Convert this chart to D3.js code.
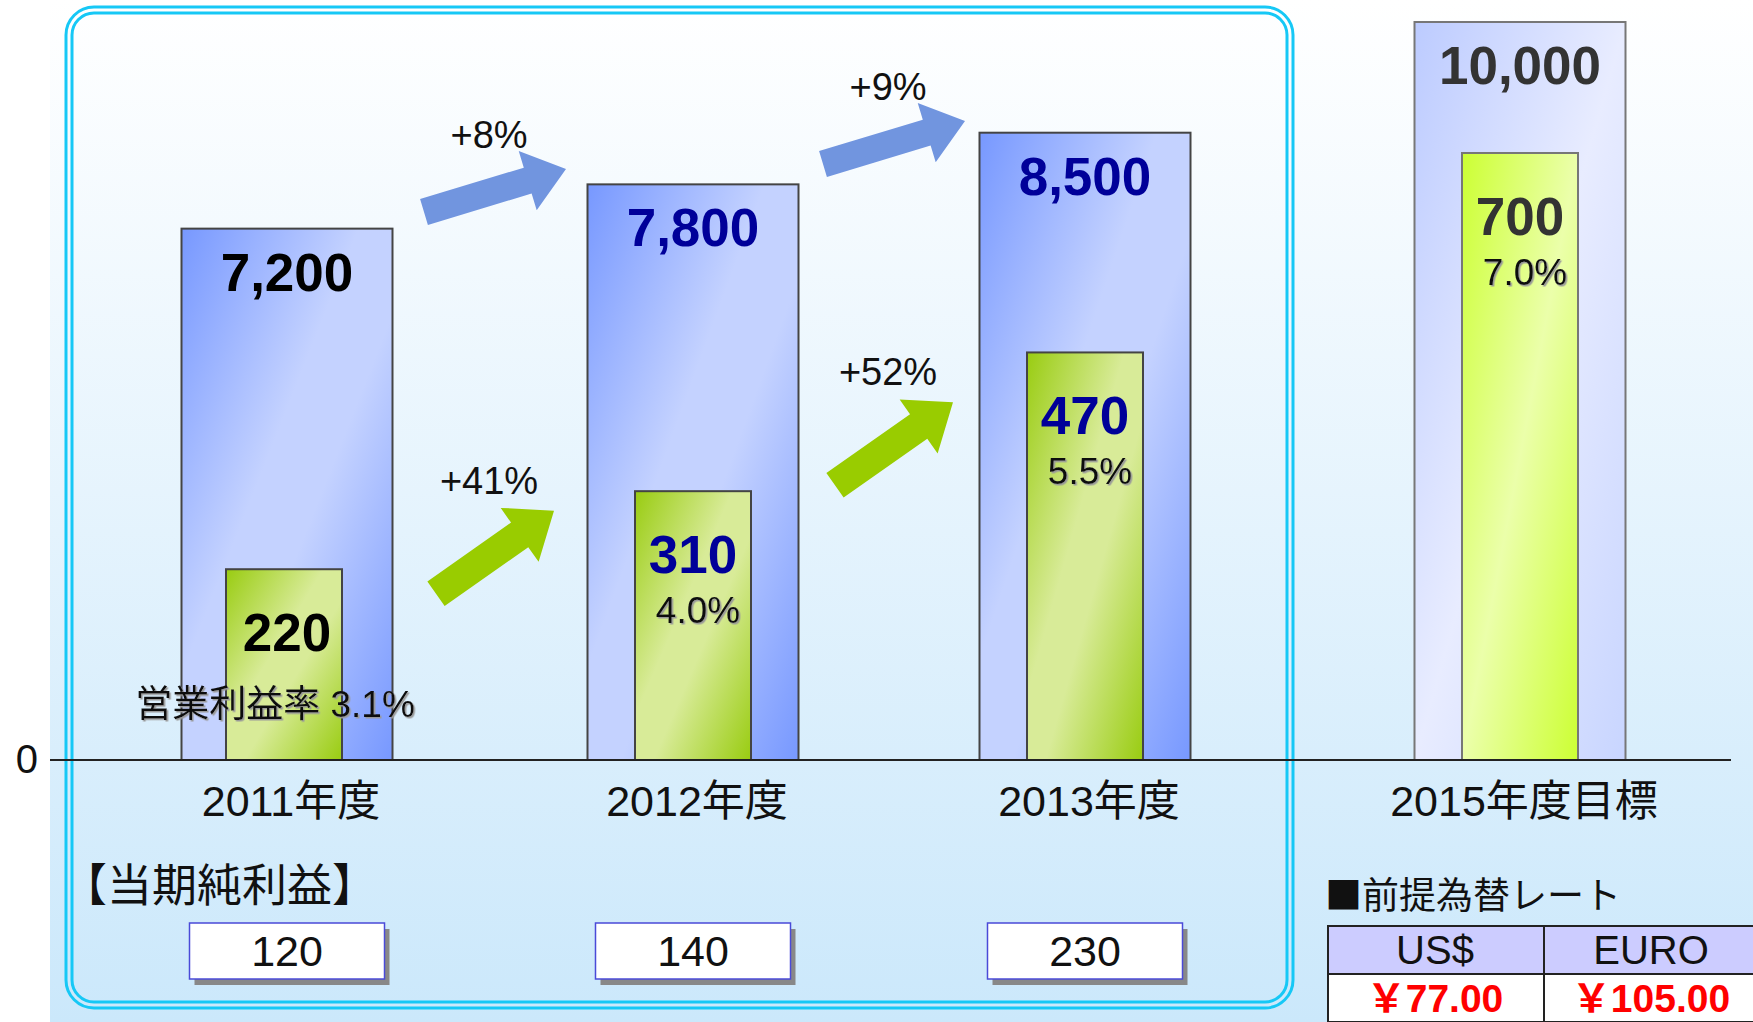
<!DOCTYPE html>
<html>
<head>
<meta charset="utf-8">
<script src="https://cdn.jsdelivr.net/npm/d3@7"></script>
<style>
  html, body { margin: 0; padding: 0; background: #fff; }
  svg { display: block; }
</style>
</head>
<body>
<div id="chart"></div>
<script>
// values
const years = ["2011年度", "2012年度", "2013年度", "2015年度目標"];
const sales = [7200, 7800, 8500, 10000];
const opProfit = [220, 310, 470, 700];
const opMargin = [3.1, 4.0, 5.5, 7.0];
const netProfit = [120, 140, 230];
const currencies = ["US$", "EURO"];
const rates = [77, 105];

const width = 1753
const height = 1022
const baseY = 760
const font = "'Liberation Sans', Arial, 'Noto Sans CJK JP', sans-serif"
const jpFont = "'Noto Sans CJK JP', 'Liberation Sans', sans-serif"

const x = d3.scaleOrdinal().domain(years).range([287, 693, 1085, 1520])
const ySales = d3.scaleLinear().domain([0, 10000]).range([baseY, 22])
const yProfit = d3.scaleLinear().domain([0, 700]).range([baseY, 153])
const salesW = 211
const profitW = 116
const isTarget = i => i === years.length - 1

const svg = d3.select("#chart").append("svg")
    .attr("width", width)
    .attr("height", height)
    .style("font-family", font);

const defs = svg.append("defs");

function diagGradient(id, stops) {
    const g = defs.append("linearGradient")
        .attr("id", id)
        .attr("x1", 0).attr("y1", 0)
        .attr("x2", 1).attr("y2", 1);
    g.selectAll("stop")
        .data(stops)
        .join("stop")
        .attr("offset", d => d[0])
        .attr("stop-color", d => d[1]);
}
diagGradient("gBlue", [[0, "#7798ff"], [0.42, "#c4d2ff"], [0.58, "#c4d2ff"], [1, "#7798ff"]]);
diagGradient("gGreen", [[0, "#99cc11"], [0.42, "#d8eb98"], [0.58, "#d8eb98"], [1, "#99cc11"]]);
diagGradient("gBlueT", [[0, "#bccbff"], [0.5, "#e8ecff"], [1, "#c8d5ff"]]);
diagGradient("gGreenT", [[0, "#ccff33"], [0.5, "#ebffaa"], [1, "#ccff33"]]);

const bg = defs.append("linearGradient")
    .attr("id", "bg")
    .attr("x1", 0).attr("y1", 0)
    .attr("x2", 0).attr("y2", 1);
bg.append("stop").attr("offset", 0).attr("stop-color", "#ffffff");
bg.append("stop").attr("offset", 1).attr("stop-color", "#cbe8fb");

const shadow = defs.append("filter").attr("id", "shadow");
shadow.append("feDropShadow")
    .attr("dx", 1.5).attr("dy", 1.5)
    .attr("stdDeviation", 0.6)
    .attr("flood-color", "#999");

// background + framed panel
svg.append("rect")
    .attr("x", 50).attr("y", 0)
    .attr("width", width - 50).attr("height", height)
    .attr("fill", "url(#bg)");

svg.append("rect")
    .attr("x", 66).attr("y", 7)
    .attr("width", 1227).attr("height", 1001)
    .attr("rx", 28)
    .attr("fill", "none")
    .attr("stroke", "#16c8f6")
    .attr("stroke-width", 3);
svg.append("rect")
    .attr("x", 72).attr("y", 13)
    .attr("width", 1215).attr("height", 989)
    .attr("rx", 22)
    .attr("fill", "none")
    .attr("stroke", "#16c8f6")
    .attr("stroke-width", 3);

// sales bars
svg.append("g")
    .selectAll("rect")
    .data(sales)
    .join("rect")
    .attr("x", (d, i) => x(years[i]) - salesW / 2)
    .attr("y", d => ySales(d))
    .attr("width", salesW)
    .attr("height", d => baseY - ySales(d))
    .attr("fill", (d, i) => isTarget(i) ? "url(#gBlueT)" : "url(#gBlue)")
    .attr("stroke", (d, i) => isTarget(i) ? "#777" : "#444")
    .attr("stroke-width", 2);

// operating profit bars
svg.append("g")
    .selectAll("rect")
    .data(opProfit)
    .join("rect")
    .attr("x", (d, i) => x(years[i]) - profitW / 2 - (i === 0 ? 3 : 0))
    .attr("y", d => yProfit(d))
    .attr("width", profitW)
    .attr("height", d => baseY - yProfit(d))
    .attr("fill", (d, i) => isTarget(i) ? "url(#gGreenT)" : "url(#gGreen)")
    .attr("stroke", (d, i) => isTarget(i) ? "#777" : "#444")
    .attr("stroke-width", 2);

const valueColor = i => i === 0 ? "#000" : isTarget(i) ? "#333" : "#000099"

svg.append("g")
    .selectAll("text")
    .data(sales)
    .join("text")
    .attr("x", (d, i) => x(years[i]))
    .attr("y", d => ySales(d) + 62)
    .attr("text-anchor", "middle")
    .attr("font-size", 53)
    .attr("font-weight", "bold")
    .attr("fill", (d, i) => valueColor(i))
    .text(d => d3.format(",")(d));

svg.append("g")
    .selectAll("text")
    .data(opProfit)
    .join("text")
    .attr("x", (d, i) => x(years[i]))
    .attr("y", d => yProfit(d) + 82)
    .attr("text-anchor", "middle")
    .attr("font-size", 53)
    .attr("font-weight", "bold")
    .attr("fill", (d, i) => valueColor(i))
    .text(d => d);

svg.append("g")
    .selectAll("text")
    .data(opMargin)
    .join("text")
    .attr("x", (d, i) => x(years[i]) + (i === 0 ? -12 : 5))
    .attr("y", (d, i) => yProfit(opProfit[i]) + (i === 0 ? 148 : 132))
    .attr("text-anchor", "middle")
    .attr("font-size", 37)
    .attr("fill", "#111")
    .attr("filter", "url(#shadow)")
    .text((d, i) => (i === 0 ? "営業利益率 " : "") + d3.format(".1f")(d) + "%");

// baseline and zero tick
svg.append("line")
    .attr("x1", 50).attr("x2", 1731)
    .attr("y1", baseY).attr("y2", baseY)
    .attr("stroke", "#222")
    .attr("stroke-width", 2);

const yAxis = svg.append("g")
    .attr("transform", "translate(50,0)")
    .call(d3.axisLeft(ySales).tickValues([0]).tickSize(0).tickPadding(12));
yAxis.select(".domain").remove();
yAxis.selectAll("text")
    .attr("font-size", 40)
    .attr("font-family", font)
    .attr("fill", "#111");

svg.append("g")
    .selectAll("text")
    .data(years)
    .join("text")
    .attr("x", (d, i) => x(d) + 4)
    .attr("y", 801)
    .attr("dy", "0.36em")
    .attr("text-anchor", "middle")
    .attr("font-size", 43)
    .attr("fill", "#111")
    .text(d => d);

// growth arrows between the actual years
function arrowPoints(x0, y0, x1, y1, shaft, headW, headL) {
    const len = Math.hypot(x1 - x0, y1 - y0);
    const ux = (x1 - x0) / len, uy = (y1 - y0) / len;
    const nx = -uy, ny = ux;
    const bx = x1 - ux * headL, by = y1 - uy * headL;
    const p = [
        [x0 + nx * shaft / 2, y0 + ny * shaft / 2],
        [bx + nx * shaft / 2, by + ny * shaft / 2],
        [bx + nx * headW / 2, by + ny * headW / 2],
        [x1, y1],
        [bx - nx * headW / 2, by - ny * headW / 2],
        [bx - nx * shaft / 2, by - ny * shaft / 2],
        [x0 - nx * shaft / 2, y0 - ny * shaft / 2]
    ];
    return p.map(d => d.join(",")).join(" ");
}

const pct = d3.format("+.0%")
const pairs = d3.range(2)

function growth(values, yScale, vec, dy, labelUp, color, shaft, headW, headL) {
    const g = svg.append("g");
    pairs.forEach(i => {
        const cx = (x(years[i]) + x(years[i + 1])) / 2 + 5;
        const cy = (yScale(values[i]) + yScale(values[i + 1])) / 2 + dy;
        g.append("polygon")
            .attr("points", arrowPoints(cx - vec[0] / 2, cy - vec[1] / 2, cx + vec[0] / 2, cy + vec[1] / 2, shaft, headW, headL))
            .attr("fill", color);
        g.append("text")
            .attr("x", cx - 6)
            .attr("y", cy - labelUp)
            .attr("dy", "0.36em")
            .attr("text-anchor", "middle")
            .attr("font-size", 38)
            .attr("fill", "#111")
            .text(pct(values[i + 1] / values[i] - 1));
    });
}
growth(sales, ySales, [142, -43], -16, 56, "#7195df", 27, 62, 40);
growth(opProfit, yProfit, [118, -83], 22, 72, "#99cc00", 30, 66, 42);

// net profit boxes
svg.append("text")
    .attr("x", 62)
    .attr("y", 886)
    .attr("dy", "0.36em")
    .attr("font-family", jpFont)
    .attr("font-size", 45)
    .attr("fill", "#111")
    .text("【当期純利益】");

const boxW = 195, boxH = 56, boxY = 923;
const boxes = svg.append("g")
    .selectAll("g")
    .data(netProfit)
    .join("g")
    .attr("transform", (d, i) => `translate(${x(years[i]) - boxW / 2},${boxY})`);
boxes.append("rect")
    .attr("x", 5).attr("y", 6)
    .attr("width", boxW).attr("height", boxH)
    .attr("fill", "#888");
boxes.append("rect")
    .attr("width", boxW).attr("height", boxH)
    .attr("fill", "#fff")
    .attr("stroke", "#4a4ad8")
    .attr("stroke-width", 1.5);
boxes.append("text")
    .attr("x", boxW / 2)
    .attr("y", boxH / 2)
    .attr("dy", "0.36em")
    .attr("text-anchor", "middle")
    .attr("font-size", 43)
    .attr("fill", "#111")
    .text(d => d);

// assumed exchange rates
svg.append("text")
    .attr("x", 1325)
    .attr("y", 896)
    .attr("dy", "0.36em")
    .attr("font-family", jpFont)
    .attr("font-size", 37)
    .attr("fill", "#111")
    .text("■前提為替レート");

const colW = 216, tX = 1328, rowH = 48, tY = 926;
const cols = svg.append("g")
    .selectAll("g")
    .data(currencies)
    .join("g")
    .attr("transform", (d, i) => `translate(${tX + i * colW},${tY})`);
cols.append("rect")
    .attr("width", colW).attr("height", rowH)
    .attr("fill", "#ccccff")
    .attr("stroke", "#222").attr("stroke-width", 2);
cols.append("rect")
    .attr("y", rowH)
    .attr("width", colW).attr("height", rowH)
    .attr("fill", "#fff")
    .attr("stroke", "#222").attr("stroke-width", 2);
cols.append("text")
    .attr("x", colW / 2 - 1)
    .attr("y", rowH / 2)
    .attr("dy", "0.36em")
    .attr("text-anchor", "middle")
    .attr("font-size", 40)
    .attr("fill", "#111")
    .text(d => d);
cols.append("text")
    .attr("x", colW / 2 - 1)
    .attr("y", rowH * 1.5)
    .attr("dy", "0.36em")
    .attr("text-anchor", "middle")
    .attr("font-size", 39)
    .attr("font-weight", "bold")
    .attr("fill", "#ff0000")
    .text((d, i) => "￥" + d3.format(".2f")(rates[i]));
</script>
</body>
</html>
